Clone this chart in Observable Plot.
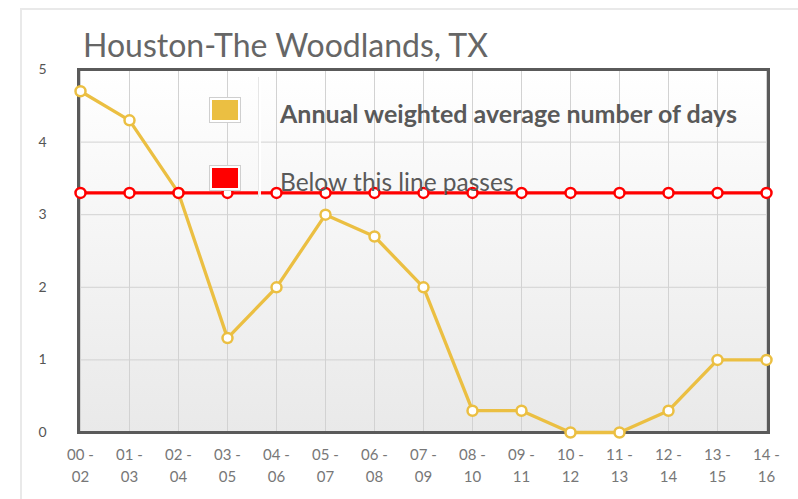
<!DOCTYPE html>
<html>
<head>
<meta charset="utf-8">
<script src="https://cdn.jsdelivr.net/npm/d3@7"></script>
<script src="https://cdn.jsdelivr.net/npm/@observablehq/plot@0.6"></script>
<style>
  html, body { margin: 0; padding: 0; background: #fff; }
  #wrap { position: relative; width: 798px; height: 499px; overflow: hidden; font-family: Lato, sans-serif; }
  #card { position: absolute; left: 20px; top: 8px; width: 900px; height: 600px; border: 2px solid #e9e9e9; box-sizing: border-box; }
  #title { position: absolute; left: 83px; top: 29px; font-size: 32px; color: #666; white-space: nowrap; line-height: 1; }
  #chart { position: absolute; left: 0; top: 0; }
  .sw { position: absolute; width: 26px; height: 20px; border: 1px solid #cfcfcf; padding: 2px; background: #fff; }
  .sw div { width: 100%; height: 100%; }
  .lt { position: absolute; left: 280px; color: #595959; white-space: nowrap; line-height: 1; }
  #sep { position: absolute; left: 258px; top: 77px; width: 3px; height: 120px; background: rgba(255,255,255,0.9); border-left: 1px solid #e6e6e6; box-sizing: border-box; }
</style>
</head>
<body>
<div id="wrap">
  <div id="card"></div>
  <div id="title"></div>
  <div id="chart"></div>
  <div id="legend"></div>
</div>
<script>
const titleText = "Houston-The Woodlands, TX";
const periods = ["00 - 02","01 - 03","02 - 04","03 - 05","04 - 06","05 - 07","06 - 08","07 - 09","08 - 10","09 - 11","10 - 12","11 - 13","12 - 14","13 - 15","14 - 16"];
const weightedDays = [4.7, 4.3, 3.3, 1.3, 2.0, 3.0, 2.7, 2.0, 0.3, 0.3, 0.0, 0.0, 0.3, 1.0, 1.0];
const passLine = [3.3, 3.3, 3.3, 3.3, 3.3, 3.3, 3.3, 3.3, 3.3, 3.3, 3.3, 3.3, 3.3, 3.3, 3.3];
const yTicks = [0, 1, 2, 3, 4, 5];
const seriesNames = ["Annual weighted average number of days", "Below this line passes"];
const seriesColors = ["#ebbf42", "#ff0000"];

const rows1 = periods.map((p, i) => ({period: p, value: weightedDays[i]}));
const rows2 = periods.map((p, i) => ({period: p, value: passLine[i]}));

document.getElementById("title").textContent = titleText;

const svg = Plot.plot({
  width: 798,
  height: 499,
  marginLeft: 78,
  marginRight: 30,
  marginTop: 69,
  marginBottom: 67,
  style: {fontFamily: "Lato, sans-serif", background: "transparent", overflow: "visible"},
  x: {type: "point", domain: periods, padding: 0},
  y: {domain: [0, 5]},
  marks: [
    Plot.frame({fill: "url(#bgGrad)"}),
    Plot.gridY({ticks: [1, 2, 3, 4], stroke: "#d2d2d2", strokeOpacity: 1}),
    Plot.gridX({stroke: "#d2d2d2", strokeOpacity: 1}),
    Plot.frame({stroke: "#5a5a5a", strokeWidth: 3}),
    Plot.axisY({ticks: yTicks, tickFormat: d3.format("d"), tickSize: 0, tickPadding: 36, textAnchor: "middle", fontSize: 14, fill: "#555", label: null}),
    Plot.axisX({tickSize: 0, tickPadding: 12, fontSize: 15, fill: "#777", lineHeight: 1.47, label: null,
      tickFormat: d => d.replace(" - ", " -\n")}),
    Plot.line(rows1, {x: "period", y: "value", stroke: seriesColors[0], strokeWidth: 3.3}),
    Plot.dot(rows1, {x: "period", y: "value", r: 5, fill: "#fff", stroke: seriesColors[0], strokeWidth: 2.5}),
    Plot.line(rows2, {x: "period", y: "value", stroke: seriesColors[1], strokeWidth: 3.3}),
    Plot.dot(rows2, {x: "period", y: "value", r: 5, fill: "#fff", stroke: seriesColors[1], strokeWidth: 2.5})
  ]
});
svg.insertAdjacentHTML("afterbegin",
  '<defs><linearGradient id="bgGrad" x1="0" y1="0" x2="0" y2="1">' +
  '<stop offset="0" stop-color="#ffffff"/><stop offset="1" stop-color="#e9e9e9"/></linearGradient></defs>');
document.getElementById("chart").appendChild(svg);

const legend = document.getElementById("legend");
const swTops = [97, 165];
const txtTops = [101, 170];
const txtSizes = [25, 24.5];
legend.insertAdjacentHTML("beforeend", '<div id="sep"></div>');
seriesNames.forEach((name, i) => {
  legend.insertAdjacentHTML("beforeend",
    `<div class="sw" style="left:209px;top:${swTops[i]}px"><div style="background:${seriesColors[i]}"></div></div>` +
    `<div class="lt" style="top:${txtTops[i]}px;font-size:${txtSizes[i]}px;font-weight:${i === 0 ? 700 : 400}">${name}</div>`);
});
</script>
</body>
</html>
